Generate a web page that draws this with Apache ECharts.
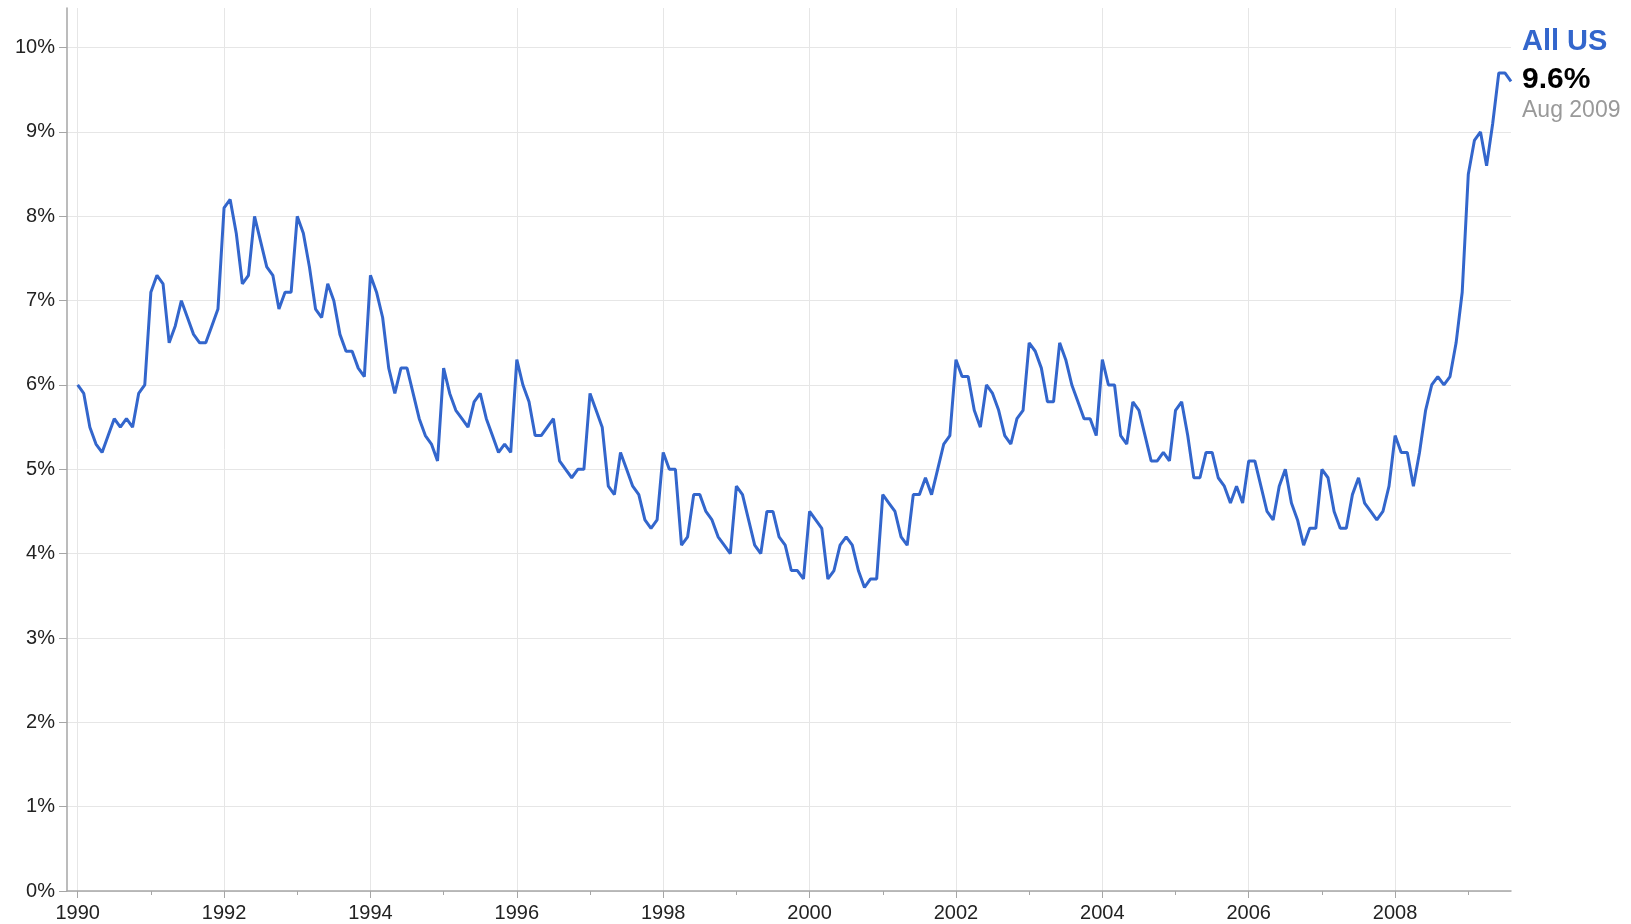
<!DOCTYPE html>
<html>
<head>
<meta charset="utf-8">
<title>All US</title>
<script src="https://cdn.jsdelivr.net/npm/echarts@6/dist/echarts.min.js"></script>
<style>
    html, body { margin: 0; padding: 0; background: #fff; }
    #chart1 { width: 1631px; height: 924px; }
</style>
</head>
<body>
<div id="chart1"></div>
<script>
// monthly rate (%), one array per year
var r1990 = [6.0, 5.9, 5.5, 5.3, 5.2, 5.4, 5.6, 5.5, 5.6, 5.5, 5.9, 6.0];
var r1991 = [7.1, 7.3, 7.2, 6.5, 6.7, 7.0, 6.8, 6.6, 6.5, 6.5, 6.7, 6.9];
var r1992 = [8.1, 8.2, 7.8, 7.2, 7.3, 8.0, 7.7, 7.4, 7.3, 6.9, 7.1, 7.1];
var r1993 = [8.0, 7.8, 7.4, 6.9, 6.8, 7.2, 7.0, 6.6, 6.4, 6.4, 6.2, 6.1];
var r1994 = [7.3, 7.1, 6.8, 6.2, 5.9, 6.2, 6.2, 5.9, 5.6, 5.4, 5.3, 5.1];
var r1995 = [6.2, 5.9, 5.7, 5.6, 5.5, 5.8, 5.9, 5.6, 5.4, 5.2, 5.3, 5.2];
var r1996 = [6.3, 6.0, 5.8, 5.4, 5.4, 5.5, 5.6, 5.1, 5.0, 4.9, 5.0, 5.0];
var r1997 = [5.9, 5.7, 5.5, 4.8, 4.7, 5.2, 5.0, 4.8, 4.7, 4.4, 4.3, 4.4];
var r1998 = [5.2, 5.0, 5.0, 4.1, 4.2, 4.7, 4.7, 4.5, 4.4, 4.2, 4.1, 4.0];
var r1999 = [4.8, 4.7, 4.4, 4.1, 4.0, 4.5, 4.5, 4.2, 4.1, 3.8, 3.8, 3.7];
var r2000 = [4.5, 4.4, 4.3, 3.7, 3.8, 4.1, 4.2, 4.1, 3.8, 3.6, 3.7, 3.7];
var r2001 = [4.7, 4.6, 4.5, 4.2, 4.1, 4.7, 4.7, 4.9, 4.7, 5.0, 5.3, 5.4];
var r2002 = [6.3, 6.1, 6.1, 5.7, 5.5, 6.0, 5.9, 5.7, 5.4, 5.3, 5.6, 5.7];
var r2003 = [6.5, 6.4, 6.2, 5.8, 5.8, 6.5, 6.3, 6.0, 5.8, 5.6, 5.6, 5.4];
var r2004 = [6.3, 6.0, 6.0, 5.4, 5.3, 5.8, 5.7, 5.4, 5.1, 5.1, 5.2, 5.1];
var r2005 = [5.7, 5.8, 5.4, 4.9, 4.9, 5.2, 5.2, 4.9, 4.8, 4.6, 4.8, 4.6];
var r2006 = [5.1, 5.1, 4.8, 4.5, 4.4, 4.8, 5.0, 4.6, 4.4, 4.1, 4.3, 4.3];
var r2007 = [5.0, 4.9, 4.5, 4.3, 4.3, 4.7, 4.9, 4.6, 4.5, 4.4, 4.5, 4.8];
var r2008 = [5.4, 5.2, 5.2, 4.8, 5.2, 5.7, 6.0, 6.1, 6.0, 6.1, 6.5, 7.1];
var r2009 = [8.5, 8.9, 9.0, 8.6, 9.1, 9.7, 9.7, 9.6];
var yearArr = [r1990, r1991, r1992, r1993, r1994, r1995, r1996, r1997, r1998, r1999,
    r2000, r2001, r2002, r2003, r2004, r2005, r2006, r2007, r2008, r2009];
// first year of the series
var startYear = 1990;
// labelled years and the small ticks between them
var majorYears = [1990, 1992, 1994, 1996, 1998, 2000, 2002, 2004, 2006, 2008];
var minorYears = [1991, 1993, 1995, 1997, 1999, 2001, 2003, 2005, 2007, 2009];
// y ticks (%)
var yTicks = [0, 1, 2, 3, 4, 5, 6, 7, 8, 9, 10];
// caption at the end of the line
var seriesName = 'All US';
var lastMonth = 'Aug 2009';

var FONT = "'Liberation Sans', Arial, sans-serif";

// [month index, value]
var pointArr = [];
var idx = 0;
for (var i = 0; i < yearArr.length; i++) {
    for (var j = 0; j < yearArr[i].length; j++) {
        pointArr.push([idx, yearArr[i][j]]);
        idx++;
    }
}
var lastVal = pointArr[pointArr.length - 1][1];

function toMonth(y) {
    return (y - startYear) * 12;
}

const chart1 = echarts.init(document.getElementById('chart1'));
var option1 = {
    backgroundColor: '#fff',
    animation: false,
    grid: { left: 67, right: 120, top: 8, bottom: 33 },
    xAxis: [{
        type: 'value',
        min: -1.75,
        max: idx - 1,
        axisLine: { lineStyle: { color: '#a6a6a6', width: 1.5 } },
        axisTick: { customValues: majorYears.map(toMonth), length: 7, lineStyle: { color: '#a6a6a6' } },
        axisLabel: {
            customValues: majorYears.map(toMonth),
            formatter: function (v) { return String(startYear + Math.round(v / 12)); },
            color: '#222', fontFamily: FONT, fontSize: 20, margin: 12
        },
        splitLine: { show: true, lineStyle: { color: '#e6e6e6', width: 1 } }
    }, {
        // odd years: short ticks only
        type: 'value',
        position: 'bottom',
        min: -1.75,
        max: idx - 1,
        axisLine: { show: false },
        axisTick: { customValues: minorYears.map(toMonth), length: 4, lineStyle: { color: '#a6a6a6' } },
        axisLabel: { show: false },
        splitLine: { show: false }
    }],
    yAxis: {
        type: 'value',
        min: 0,
        max: 10.47,
        axisLine: { show: true, onZero: false, lineStyle: { color: '#a6a6a6', width: 1.5 } },
        axisTick: { show: true, customValues: yTicks, length: 8, lineStyle: { color: '#a6a6a6' } },
        axisLabel: {
            customValues: yTicks,
            formatter: '{value}%',
            color: '#222', fontFamily: FONT, fontSize: 20, margin: 12
        },
        splitLine: { show: true, lineStyle: { color: '#e6e6e6', width: 1 } }
    },
    series: [{
        name: seriesName,
        type: 'line',
        data: pointArr,
        showSymbol: false,
        lineStyle: { color: '#3366cc', width: 3 },
        itemStyle: { color: '#3366cc' }
    }],
    graphic: [
        { type: 'text', x: 1522, y: 42, style: { text: seriesName, fill: '#3366cc', font: 'bold 29px ' + FONT, verticalAlign: 'middle' } },
        { type: 'text', x: 1522, y: 80, style: { text: lastVal.toFixed(1) + '%', fill: '#000', font: 'bold 30px ' + FONT, verticalAlign: 'middle' } },
        { type: 'text', x: 1522, y: 111, style: { text: lastMonth, fill: '#999', font: '23px ' + FONT, verticalAlign: 'middle' } }
    ]
};
chart1.setOption(option1);
</script>
</body>
</html>
